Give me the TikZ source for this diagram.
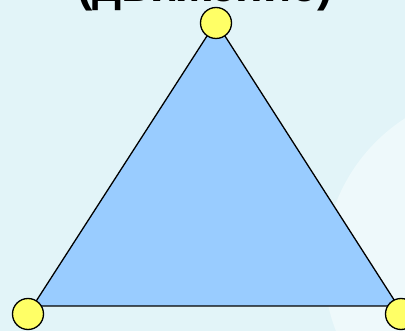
\documentclass[tikz,border=0pt]{standalone}
\usepackage{fontspec}
\setmainfont{Liberation Sans}
\definecolor{bgc}{RGB}{226,244,248}
\definecolor{bgl}{RGB}{238,249,251}
\definecolor{trif}{RGB}{153,204,255}
\definecolor{dotf}{RGB}{255,255,102}
\tikzset{
  vertex/.style={circle,draw=black,line width=1.3pt,fill=dotf,minimum size=31pt,inner sep=0pt},
  tri/.style={draw=black,line width=1.3pt,fill=trif,line join=miter},
  title/.style={font=\bfseries\fontsize{46}{46}\selectfont,inner sep=0pt,anchor=base}
}
\begin{document}
\begin{tikzpicture}[x=1pt,y=-1pt]
\useasboundingbox (0,0) rectangle (405,331);
\clip (0,0) rectangle (405,331);
\fill[bgc] (0,0) rectangle (405,331);
\fill[bgl] (501,267) circle (177);
\node[title] (t) at (205,2) {(движение)};
\coordinate (A) at (216,22);
\coordinate (B) at (33,306);
\coordinate (C) at (398,306);
\draw[tri] (A) -- (B) -- (C) -- cycle;
\node[vertex] (va) at (216,23) {};
\node[vertex] (vb) at (28,314) {};
\node[vertex] (vc) at (401,314) {};
\end{tikzpicture}
\end{document}
